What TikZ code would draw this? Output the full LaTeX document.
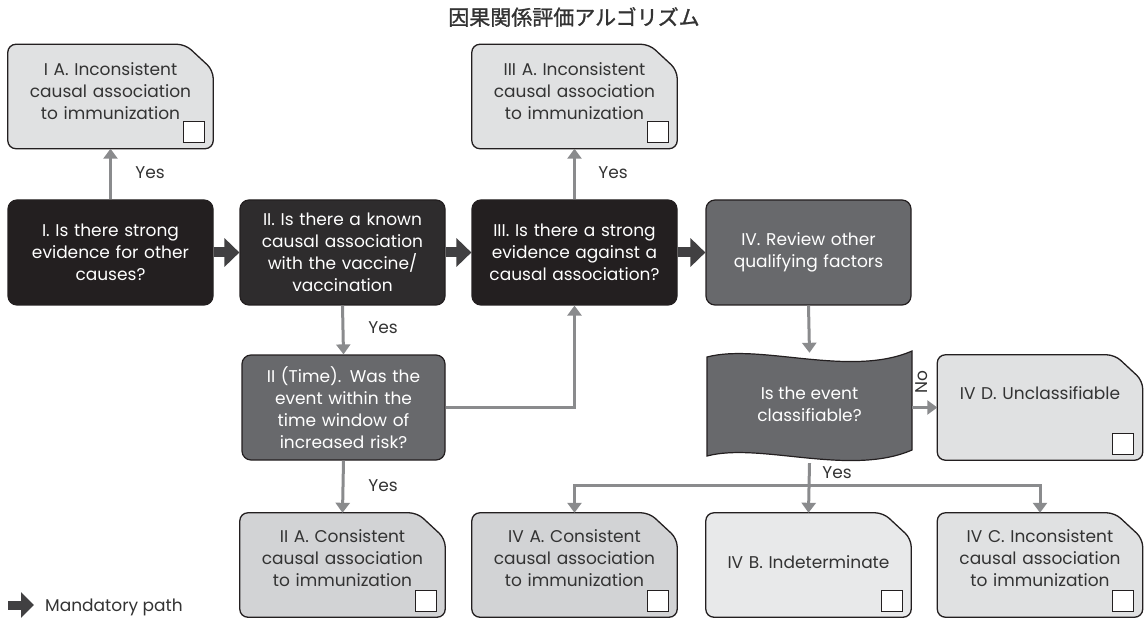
\documentclass[tikz,border=0pt]{standalone}
\usepackage{fontspec}
\setmainfont{Poppins}
\newfontfamily\cjk[FakeBold=1.2]{Noto Sans CJK JP}
\usetikzlibrary{arrows.meta,backgrounds}
\definecolor{edge}{HTML}{231F20}
\definecolor{darkbox}{HTML}{231F20}
\definecolor{darkboxb}{HTML}{2E2C2D}
\definecolor{midbox}{HTML}{68696C}
\definecolor{lightA}{HTML}{E0E1E2}
\definecolor{lightB}{HTML}{D2D3D5}
\definecolor{lightC}{HTML}{E8E9EA}
\definecolor{txt}{HTML}{333333}
\definecolor{thin}{HTML}{8A8B8D}
\definecolor{thick}{HTML}{414042}
\newcommand\notebg[2]{%
  \begin{pgfonlayer}{background}
  \draw[line width=1.3, draw=edge, fill=#2, rounded corners=8]
    (#1.north west) -- ([xshift=-28]#1.north east) -- ([yshift=-26]#1.north east)
    -- (#1.south east) -- (#1.south west) -- cycle;
  \draw[line width=1.1, draw=edge, fill=white]
    ([xshift=-30,yshift=6]#1.south east) rectangle ([xshift=-9,yshift=27]#1.south east);
  \end{pgfonlayer}}
\begin{document}
\begin{tikzpicture}[x=1pt,y=-1pt,
  every node/.style={font=\fontsize{17}{22}\selectfont},
  qbox/.style={draw=edge, line width=1.2, rounded corners=9, minimum width=205, minimum height=105,
    text width=200, align=center, text=white, inner sep=0},
  notebox/.style={minimum width=205, minimum height=104, inner sep=0},
  notetext/.style={text width=200, align=center, text=txt, inner sep=0},
  lbl/.style={text=txt, inner sep=0},
  tarrow/.style={draw=thin, line width=3, -{Triangle[width=14,length=10]}},
  tline/.style={draw=thin, line width=3},
  mand/.style={draw=thick, line width=10, -{Triangle[width=28,length=15]}}]
\useasboundingbox (0,0) rectangle (1146,620);
\node[text=txt, inner sep=0] (title) at (574,17) {\cjk\fontsize{21}{24}\selectfont 因果関係評価アルゴリズム};

% row 1
\node[notebox] (ia) at (110.5,96.5) {};
\notebg{ia}{lightA}
\node[notetext] (ia-t) at (110.5,91) {I A. Inconsistent\\causal association\\to immunization};
\node[notebox] (iiia) at (574.5,96.5) {};
\notebg{iiia}{lightA}
\node[notetext] (iiia-t) at (574.5,91) {III A. Inconsistent\\causal association\\to immunization};

% row 2
\node[qbox, fill=darkbox] (q1) at (110.5,252.5) {I. Is there strong\\evidence for other\\causes?};
\node[qbox, fill=darkboxb] (q2) at (342.5,252.5) {II. Is there a known\\causal association\\with the vaccine/\\vaccination};
\node[qbox, fill=darkbox] (q3) at (574.5,252.5) {III. Is there a strong\\evidence against a\\causal association?};
\node[qbox, fill=midbox] (q4) at (808.5,252.5) {IV. Review other\\qualifying factors};

% row 3
\node[qbox, fill=midbox, minimum width=203] (q2t) at (343.5,407.5) {II (Time). Was the\\event within the\\time window of\\increased risk?};
\node[minimum width=205, minimum height=105, inner sep=0] (wave) at (809.5,407.5) {};
\begin{pgfonlayer}{background}
\draw[line width=1.2, draw=edge, fill=midbox]
  (707,357) .. controls (760,343) and (850,378) .. (912,351)
  -- (912,450) .. controls (850,477) and (760,442) .. (707,456) -- cycle;
\end{pgfonlayer}
\node[text=white, align=center, inner sep=0] (wave-t) at (809.5,404) {Is the event\\classifiable?};
\node[notebox, minimum height=105] (ivd) at (1040,407.5) {};
\notebg{ivd}{lightA}
\node[notetext] (ivd-t) at (1040,393) {IV D. Unclassifiable};

% row 4
\node[notebox] (iia) at (342.5,565) {};
\notebg{iia}{lightB}
\node[notetext] (iia-t) at (342.5,558.5) {II A. Consistent\\causal association\\to immunization};
\node[notebox] (iva) at (574.5,565) {};
\notebg{iva}{lightB}
\node[notetext] (iva-t) at (574.5,558.5) {IV A. Consistent\\causal association\\to immunization};
\node[notebox] (ivb) at (808.5,565) {};
\notebg{ivb}{lightC}
\node[notetext] (ivb-t) at (808.5,562) {IV B. Indeterminate};
\node[notebox] (ivc) at (1040,565) {};
\notebg{ivc}{lightA}
\node[notetext] (ivc-t) at (1040,558.5) {IV C. Inconsistent\\causal association\\to immunization};

% mandatory path
\draw[mand] (q1.east) -- (q2.west);
\draw[mand] (q2.east) -- (q3.west);
\draw[mand] (q3.east) -- (q4.west);

% thin connectors
\draw[tarrow] (q1.north) -- (ia.south);
\node[lbl] (y1) at (150,173) {Yes};
\draw[tarrow] (q3.north) -- (iiia.south);
\node[lbl] (y2) at (613,173) {Yes};
\draw[tarrow] (q2.south) -- (q2t.north);
\node[lbl] (y3) at (383,328) {Yes};
\draw[tarrow] (q2t.south) -- (iia.north);
\node[lbl] (y4) at (383,486) {Yes};
\draw[tarrow] (q2t.east) -| (q3.south);
\draw[tarrow] (q4.south) -- ([yshift=2]wave.north);
\draw[tarrow] (wave.east) -- (ivd.west);
\node[lbl, rotate=90] (no) at (922,382) {No};
\coordinate (split) at (809.5,485);
\draw[tarrow] ([yshift=-3]wave.south) -- (ivb.north);
\draw[tarrow] (split) -| (iva.north);
\draw[tarrow] (split) -| (ivc.north);
\node[lbl] (y5) at (837,473) {Yes};

% legend
\coordinate (lg1) at (8,605);
\coordinate (lg2) at (34,605);
\draw[mand, line width=9, -{Triangle[width=25,length=13]}] (lg1) -- (lg2);
\node[lbl, anchor=west] (legend) at (45,607) {Mandatory path};
\end{tikzpicture}
\end{document}
